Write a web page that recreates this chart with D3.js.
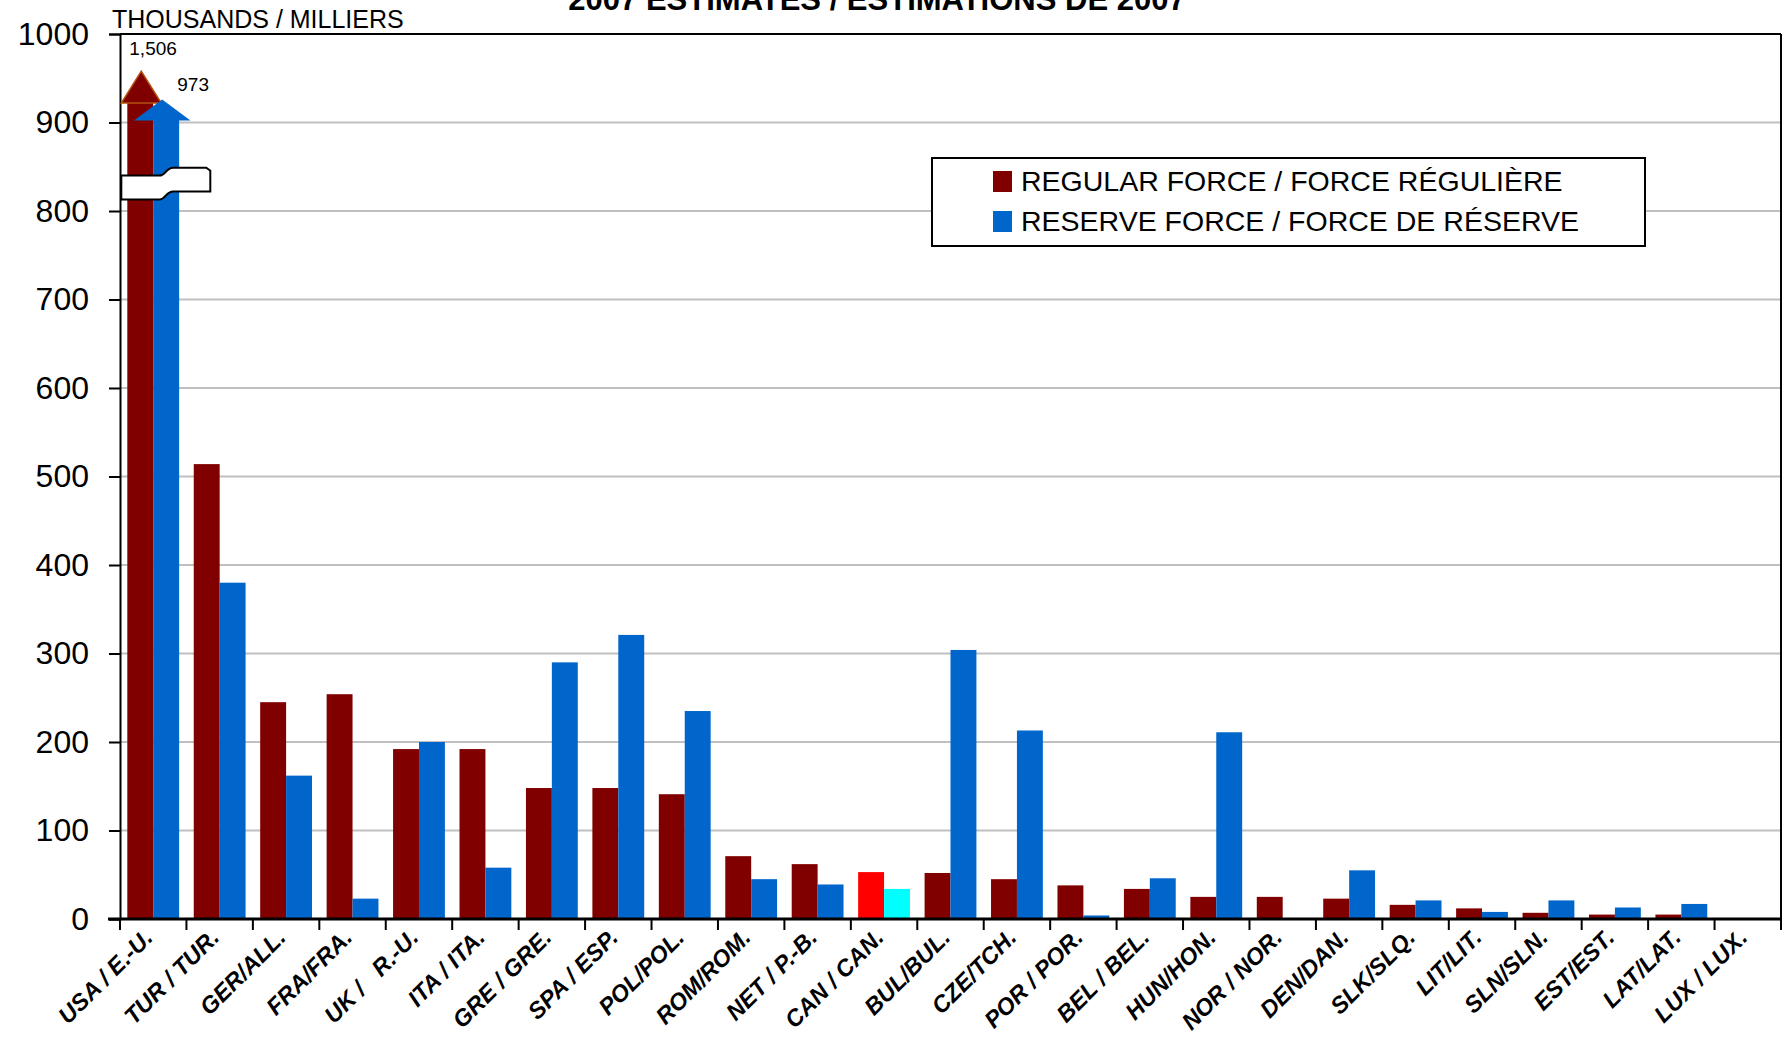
<!DOCTYPE html>
<html><head><meta charset="utf-8">
<script src="https://cdn.jsdelivr.net/npm/d3@7/dist/d3.min.js"></script>
<style>
html,body{margin:0;padding:0;background:#fff;}
svg{display:block;font-family:"Liberation Sans",Arial,sans-serif;}
</style></head>
<body>
<svg id="chart" width="1788" height="1037"></svg>
<script>
const categories = ["USA / E.-U.","TUR / TUR.","GER/ALL.","FRA/FRA.","UK /   R.-U.","ITA / ITA.","GRE / GRE.","SPA / ESP.","POL/POL.","ROM/ROM.","NET / P.-B.","CAN / CAN.","BUL/BUL.","CZE/TCH.","POR / POR.","BEL / BEL.","HUN/HON.","NOR / NOR.","DEN/DAN.","SLK/SLQ.","LIT/LIT.","SLN/SLN.","EST/EST.","LAT/LAT.","LUX / LUX."];
const regularForce = [1506,514,245,254,192,192,148,148,141,71,62,53,52,45,38,34,25,25,23,16,12,7,5,5,0];
const reserveForce = [973,380,162,23,200,58,290,321,235,45,39,34,304,213,4,46,211,0,55,21,8,21,13,17,0];
const seriesNames = ["REGULAR FORCE / FORCE RÉGULIÈRE","RESERVE FORCE / FORCE DE RÉSERVE"];
const yTicks = [0,100,200,300,400,500,600,700,800,900,1000];
const title = "2007 ESTIMATES / ESTIMATIONS DE 2007";
const unitLabel = "THOUSANDS / MILLIERS";
const highlightCategory = "CAN / CAN.";

const colors = ["#800000","#0066CC"];
const highlightColors = ["#FF0000","#00FFFF"];

const svg = d3.select("#chart");
const L = 120, R = 1781, T = 34, B = 919;

const y = d3.scaleLinear().domain([0,1000]).range([B,T]);
const x0 = d3.scaleBand().domain(categories).range([L,R]).paddingInner(0.22).paddingOuter(0.11);
const x1 = d3.scaleBand().domain([0,1]).range([0,x0.bandwidth()]);

// title
svg.append("text").attr("x",877).attr("y",10).attr("text-anchor","middle")
  .attr("font-weight","bold").attr("font-size",31).text(title);

// gridlines
svg.append("g").selectAll("line").data(yTicks.filter(d=>d>0 && d<1000)).join("line")
  .attr("x1",L).attr("x2",R).attr("y1",d=>y(d)).attr("y2",d=>y(d))
  .attr("stroke","#c0c0c0").attr("stroke-width",2);

// y axis
const yAxis = d3.axisLeft(y).tickValues(yTicks).tickSize(11).tickPadding(20).tickFormat(d3.format("d"));
const gy = svg.append("g").attr("transform",`translate(${L},0)`).call(yAxis);
gy.select(".domain").attr("stroke","#000").attr("stroke-width",2);
gy.selectAll(".tick line").attr("stroke","#000").attr("stroke-width",2);
gy.selectAll(".tick text").attr("font-size",32).attr("font-family","Liberation Sans, Arial, sans-serif").attr("fill","#000");

// plot border top and right
svg.append("line").attr("x1",L).attr("x2",R).attr("y1",y(1000)).attr("y2",y(1000)).attr("stroke","#000").attr("stroke-width",2);
svg.append("line").attr("x1",R).attr("x2",R).attr("y1",y(1000)).attr("y2",B).attr("stroke","#000").attr("stroke-width",2);

// unit label
svg.append("text").attr("x",112).attr("y",28).attr("font-size",25).text(unitLabel);

// bars
const capBase = [922,903], capTip = [958,925];
const data = categories.map((c,i)=>({c, vals:[regularForce[i],reserveForce[i]]}));
const groups = svg.append("g").selectAll("g").data(data).join("g")
  .attr("transform",d=>`translate(${x0(d.c)},0)`);
groups.each(function(d){
  const g = d3.select(this);
  d.vals.forEach((v,s)=>{
    if(v<=0) return;
    const fill = d.c===highlightCategory ? highlightColors[s] : colors[s];
    const top = v>capBase[s] ? capBase[s] : v;
    g.append("rect").attr("x",x1(s)).attr("width",x1.bandwidth())
      .attr("y",y(top)).attr("height",y(0)-y(top)).attr("fill",fill);
  });
});

// arrow heads for broken USA bars
const usa = data[0];
const headW = [40,52];
usa.vals.forEach((v,s)=>{
  if(v<=capBase[s]) return;
  const cx = x0(usa.c)+x1(s)+x1.bandwidth()/2 + (s===0?1:-4);
  svg.append("path")
    .attr("d",`M${cx-headW[s]/2},${y(capBase[s])} L${cx},${y(capTip[s])} L${cx+headW[s]/2},${y(capBase[s])} Z`)
    .attr("fill",colors[s]).attr("stroke",s===0?"#b5520c":colors[s]).attr("stroke-width",1.5);
});
// value labels
svg.append("text").attr("x",x0(usa.c)+2).attr("y",55).attr("font-size",19).text(d3.format(",")(usa.vals[0]));
svg.append("text").attr("x",x0(usa.c)+50).attr("y",91).attr("font-size",19).text(d3.format(",")(usa.vals[1]));

// break symbol
{
  const bx = x0(usa.c)-6, bw = 89;
  const t1 = y(840), t0 = y(849), b1 = y(813), b0 = y(822);
  const p = `M${bx},${t1} L${bx+38},${t1} C${bx+45},${t1} ${bx+44},${t0} ${bx+52},${t0} L${bx+bw-4},${t0} L${bx+bw},${t0+3} L${bx+bw},${b0} L${bx+52},${b0} C${bx+44},${b0} ${bx+45},${b1} ${bx+38},${b1} L${bx},${b1} Z`;
  svg.append("path").attr("d",p).attr("fill","#fff").attr("stroke","#000").attr("stroke-width",2);
}

// x axis
svg.append("line").attr("x1",L-12).attr("x2",R).attr("y1",B).attr("y2",B).attr("stroke","#000").attr("stroke-width",3);
const step = x0.step();
const bounds = d3.range(categories.length+1).map(i=>L+i*step);
svg.append("g").selectAll("line").data(bounds).join("line")
  .attr("x1",d=>d).attr("x2",d=>d).attr("y1",B).attr("y2",B+11).attr("stroke","#000").attr("stroke-width",2);

// x labels
svg.append("g").selectAll("text").data(categories).join("text")
  .attr("transform",d=>`translate(${x0(d)+x0.bandwidth()/2+1},${B+20}) rotate(-45)`)
  .attr("text-anchor","end").attr("font-weight","bold").attr("font-style","italic")
  .attr("font-size",23.5).attr("xml:space","preserve").style("white-space","pre").text(d=>d);

// legend
const lg = svg.append("g");
lg.append("rect").attr("x",932).attr("y",158).attr("width",713).attr("height",88)
  .attr("fill","#fff").attr("stroke","#000").attr("stroke-width",2);
seriesNames.forEach((n,i)=>{
  const cy = 181 + i*40;
  lg.append("rect").attr("x",993).attr("y",cy-10).attr("width",19).attr("height",21).attr("fill",colors[i]);
  lg.append("text").attr("x",1021).attr("y",cy+10).attr("font-size",28.5).text(n);
});
</script>
</body></html>
